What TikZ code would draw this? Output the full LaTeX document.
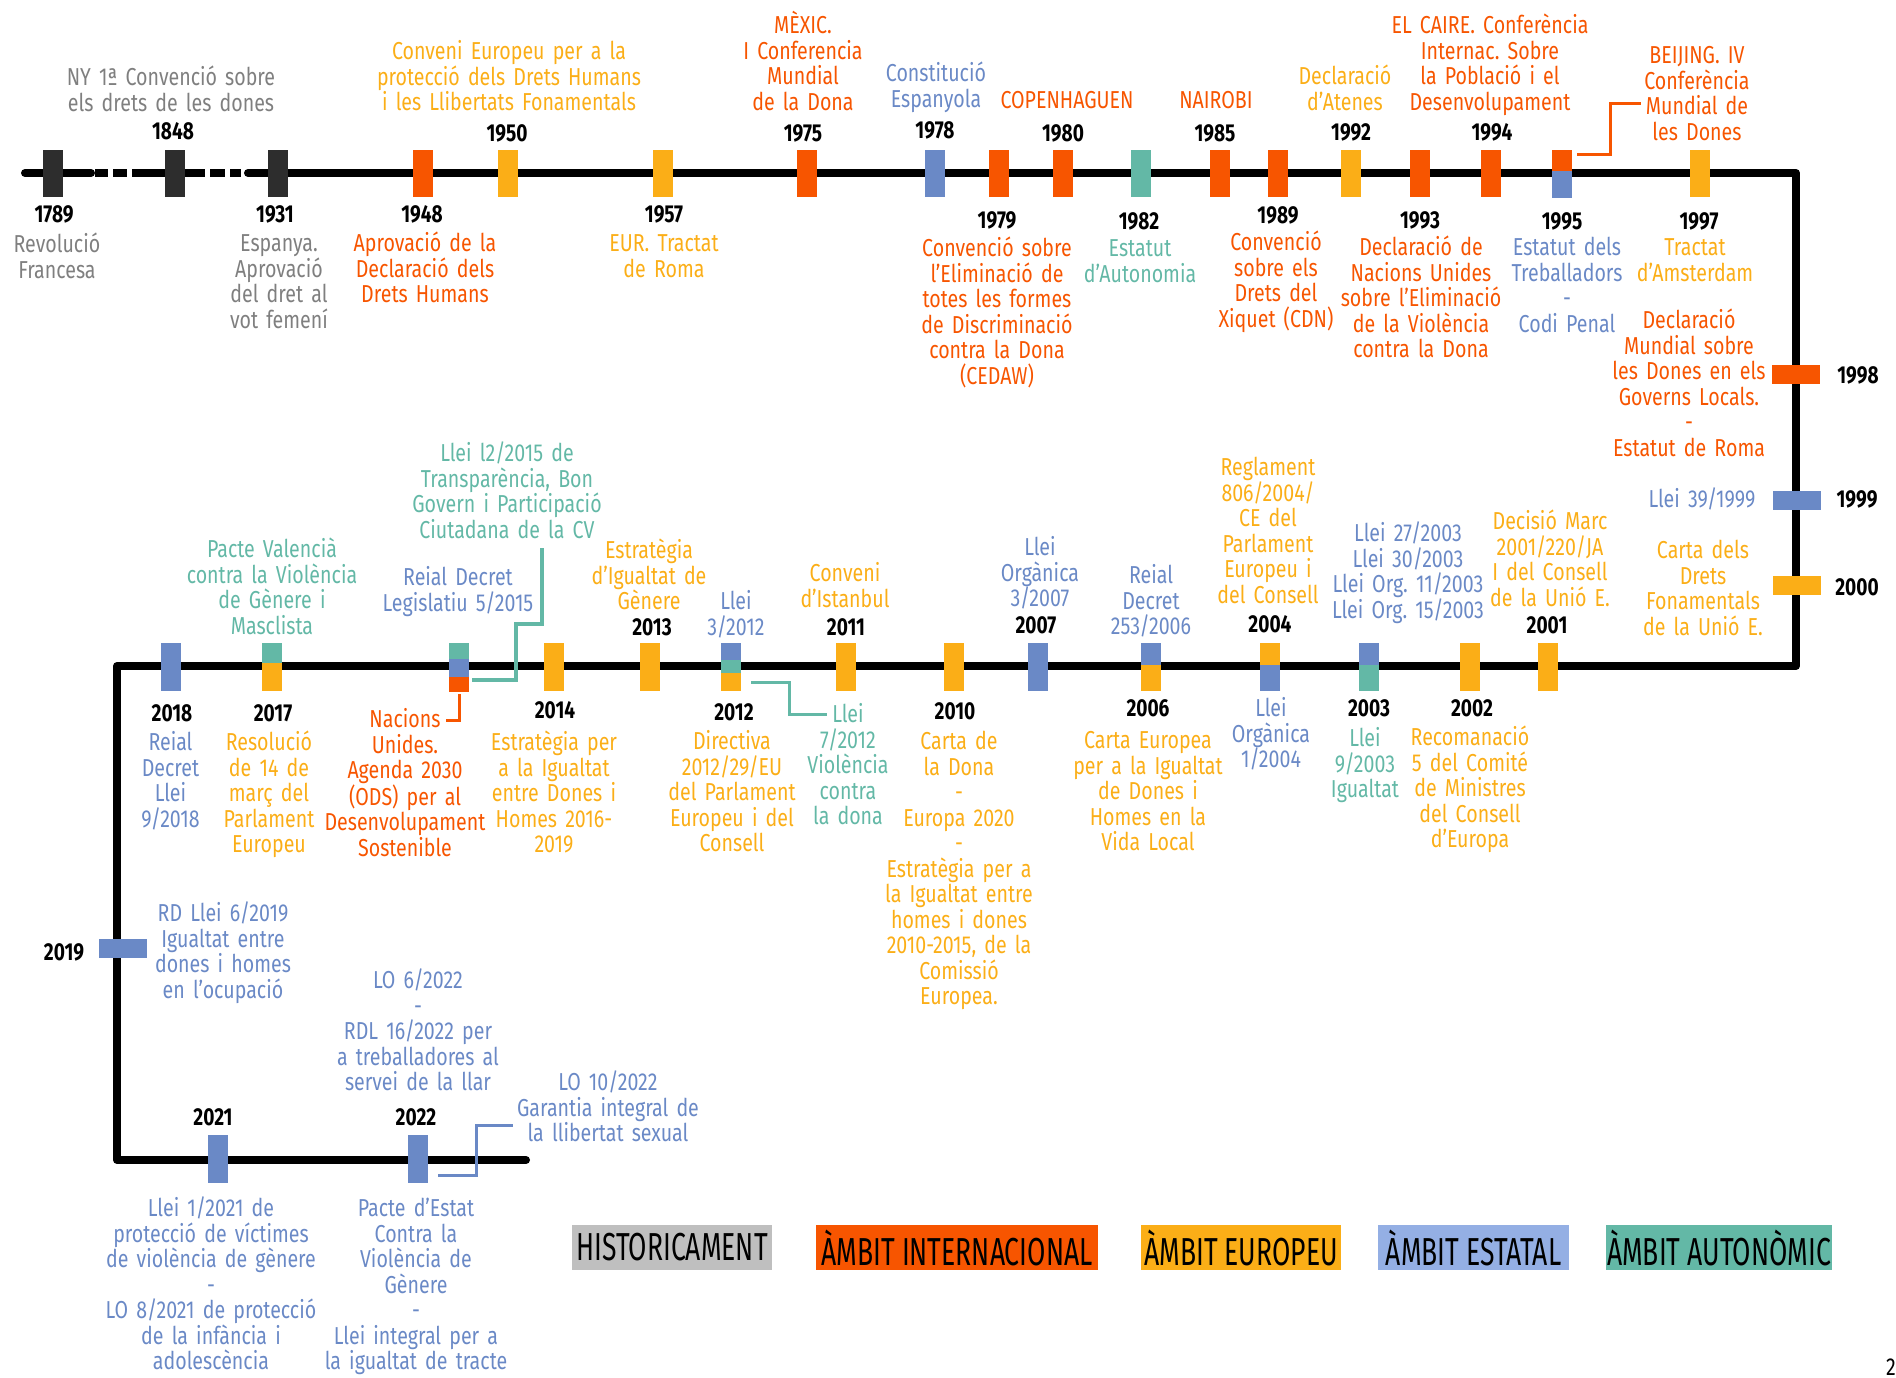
\documentclass[tikz,border=0pt]{standalone}
\usepackage{fontspec}
\setmainfont{Fira Sans}[FakeStretch=0.8]
\newfontfamily\yrfam{Fira Sans}[FakeStretch=0.78]
\newfontfamily\legfam{Fira Sans}[FakeStretch=0.68]
\definecolor{ornc}{HTML}{F75500}
\definecolor{ylw}{HTML}{FBAE17}
\definecolor{blu}{HTML}{6A89C6}
\definecolor{bluL}{HTML}{94AFE4}
\definecolor{tea}{HTML}{63B8A6}
\definecolor{gry}{HTML}{7F7F7F}
\definecolor{gryL}{HTML}{BFBFBF}
\definecolor{drk}{HTML}{2D2D2D}
\frenchspacing
\def\txf{\fontsize{24.5}{25.5}\selectfont}
\def\yrf{\yrfam\bfseries\fontsize{24.5}{25.5}\selectfont}
\tikzset{
  mk/.style={inner sep=0, outer sep=0, minimum width=20pt, minimum height=47pt},
  hmk/.style={inner sep=0, outer sep=0, minimum width=48pt, minimum height=19pt},
  yr/.style={font=\yrf, text=black, inner sep=0, anchor=base, yshift=-8.5pt},
  lbl/.style={font=\txf, align=center, text width=400pt, inner sep=0, anchor=base, yshift=-8.5pt},
  con/.style={line width=3pt},
  axis/.style={line width=8pt},
  leg/.style={inner sep=0, minimum height=45pt, font=\legfam\fontsize{39}{40}\selectfont, text=black}
}
\begin{document}
\begin{tikzpicture}[x=1pt,y=-1pt]
\useasboundingbox (0,0) rectangle (1896,1377);
% axis
\draw[axis, line cap=round] (25,173) -- (91,173);
\draw[axis] (95,173) -- (108,173) (113,173) -- (127,173) (210,173) -- (225,173) (230,173) -- (241,173);
\draw[axis] (132,173) -- (205,173);
\draw[axis, line cap=round, line join=round] (248,173) -- (1796,173) -- (1796,666) -- (117,666) -- (117,1160) -- (526,1160);
% top markers
\node[mk, fill=drk] (m1789) at (53,173.5) {};
\node[mk, fill=drk] (m1848) at (175,173.5) {};
\node[mk, fill=drk] (m1931) at (278,173.5) {};
\node[mk, fill=ornc] (m1948) at (423,173.5) {};
\node[mk, fill=ylw] (m1950) at (508,173.5) {};
\node[mk, fill=ylw] (m1957) at (663,173.5) {};
\node[mk, fill=ornc] (m1975) at (807,173.5) {};
\node[mk, fill=blu] (m1978) at (935,173.5) {};
\node[mk, fill=ornc] (m1979) at (999,173.5) {};
\node[mk, fill=ornc] (m1980) at (1063,173.5) {};
\node[mk, fill=tea] (m1982) at (1141,173.5) {};
\node[mk, fill=ornc] (m1985) at (1220,173.5) {};
\node[mk, fill=ornc] (m1989) at (1278,173.5) {};
\node[mk, fill=ylw] (m1992) at (1351,173.5) {};
\node[mk, fill=ornc] (m1993) at (1420,173.5) {};
\node[mk, fill=ornc] (m1994) at (1491,173.5) {};
\node[mk, fill=ornc, minimum height=21pt] (m1995a) at (1562,160.5) {};
\node[mk, fill=blu, minimum height=27pt] (m1995b) at (1562,184.5) {};
\node[mk, fill=ylw] (m1997) at (1700,173.5) {};
% right markers
\node[hmk, fill=ornc] (m1998) at (1796,374) {};
\node[hmk, fill=blu] (m1999) at (1797,500) {};
\node[hmk, fill=ylw] (m2000) at (1797,585) {};
% middle markers
\node[mk, fill=ylw, minimum height=48pt] (m2001) at (1548,667) {};
\node[mk, fill=ylw, minimum height=48pt] (m2002) at (1470,667) {};
\node[mk, fill=blu, minimum height=22pt] (m2003a) at (1369,654) {};
\node[mk, fill=tea, minimum height=26pt] (m2003b) at (1369,678) {};
\node[mk, fill=ylw, minimum height=22pt] (m2004a) at (1270,654) {};
\node[mk, fill=blu, minimum height=26pt] (m2004b) at (1270,678) {};
\node[mk, fill=blu, minimum height=22pt] (m2006a) at (1151,654) {};
\node[mk, fill=ylw, minimum height=26pt] (m2006b) at (1151,678) {};
\node[mk, fill=blu, minimum height=48pt] (m2007) at (1038,667) {};
\node[mk, fill=ylw, minimum height=48pt] (m2010) at (954,667) {};
\node[mk, fill=ylw, minimum height=48pt] (m2011) at (846,667) {};
\node[mk, fill=blu, minimum height=17pt] (m2012a) at (731,651.5) {};
\node[mk, fill=tea, minimum height=13pt] (m2012b) at (731,666.5) {};
\node[mk, fill=ylw, minimum height=18pt] (m2012c) at (731,682) {};
\node[mk, fill=ylw, minimum height=48pt] (m2013) at (650,667) {};
\node[mk, fill=ylw, minimum height=48pt] (m2014) at (554,667) {};
\node[mk, fill=tea, minimum height=16pt] (m2015a) at (459,651) {};
\node[mk, fill=blu, minimum height=18pt] (m2015b) at (459,668) {};
\node[mk, fill=ornc, minimum height=15pt] (m2015c) at (459,684.5) {};
\node[mk, fill=tea, minimum height=20pt] (m2017a) at (271.5,653) {};
\node[mk, fill=ylw, minimum height=28pt] (m2017b) at (271.5,677) {};
\node[mk, fill=blu, minimum height=48pt] (m2018) at (170.5,667) {};
% left and bottom markers
\node[hmk, fill=blu] (m2019) at (123,948.5) {};
\node[mk, fill=blu, minimum height=48pt] (m2021) at (218,1159) {};
\node[mk, fill=blu, minimum height=48pt] (m2022) at (418,1159) {};
% connectors
\coordinate (c1995) at (1641,103);
\draw[con, ornc] ([xshift=5pt,yshift=6.5pt]m1995a.east) -| (1610,103) -- (c1995);
\coordinate (c2012) at (827,714);
\draw[con, tea] ([xshift=10pt]m2012c.east) -| (789,714) -- (c2012);
\coordinate (c2015t) at (542,548);
\draw[con, tea, line width=3.5pt] ([xshift=3pt,yshift=4.5pt]m2015c.east) -| (516,624) -| (c2015t);
\coordinate (c2015o) at (446,720);
\draw[con, ornc] ([yshift=-2pt]m2015c.south) |- (c2015o);
\coordinate (c2022) at (513,1125);
\draw[con, blu] ([xshift=10pt,yshift=-16pt]m2022.east) -| (476,1125) -- (c2022);
% years
\node[yr] (y1848) at (173,131) {1848};
\node[yr] (y1950) at (507,133) {1950};
\node[yr] (y1975) at (803,133) {1975};
\node[yr] (y1978) at (935,130) {1978};
\node[yr] (y1980) at (1063,133) {1980};
\node[yr] (y1985) at (1215,133) {1985};
\node[yr] (y1992) at (1351,132) {1992};
\node[yr] (y1994) at (1492,132) {1994};
\node[yr] (y1789) at (54,214) {1789};
\node[yr] (y1931) at (275,214) {1931};
\node[yr] (y1948) at (422,214) {1948};
\node[yr] (y1957) at (664,214) {1957};
\node[yr] (y1979) at (997,220) {1979};
\node[yr] (y1982) at (1139,221) {1982};
\node[yr] (y1989) at (1278,215) {1989};
\node[yr] (y1993) at (1420,220) {1993};
\node[yr] (y1995) at (1562,221) {1995};
\node[yr] (y1997) at (1699,221) {1997};
\node[yr] (y1998) at (1858,375) {1998};
\node[yr] (y1999) at (1857,499) {1999};
\node[yr] (y2000) at (1857,587) {2000};
\node[yr] (y2001) at (1547,625) {2001};
\node[yr] (y2004) at (1270,624) {2004};
\node[yr] (y2007) at (1036,625) {2007};
\node[yr] (y2011) at (846,627) {2011};
\node[yr] (y2013) at (652,627) {2013};
\node[yr] (y2002) at (1472,708) {2002};
\node[yr] (y2003) at (1369,708) {2003};
\node[yr] (y2006) at (1148,708) {2006};
\node[yr] (y2010) at (955,711) {2010};
\node[yr] (y2012) at (734,712) {2012};
\node[yr] (y2014) at (555,710) {2014};
\node[yr] (y2017) at (273,713) {2017};
\node[yr] (y2018) at (172,713) {2018};
\node[yr] (y2019) at (64,952) {2019};
\node[yr] (y2021) at (213,1117) {2021};
\node[yr] (y2022) at (416,1117) {2022};
% labels top row
\node[lbl, text=gry] (t1848) at (171,77) {NY 1ª Convenció sobre\\els drets de les dones};
\node[lbl, text=ylw] (t1950) at (509,51) {Conveni Europeu per a la\\protecció dels Drets Humans\\i les Llibertats Fonamentals};
\node[lbl, text=ornc] (t1975) at (803,25) {MÈXIC.\\I Conferencia\\Mundial\\de la Dona};
\node[lbl, text=blu] (t1978) at (936,73) {Constitució\\Espanyola};
\node[lbl, text=ornc] (t1980) at (1067,100) {COPENHAGUEN};
\node[lbl, text=ornc] (t1985) at (1216,100) {NAIROBI};
\node[lbl, text=ylw] (t1992) at (1345,76) {Declaració\\d’Atenes};
\node[lbl, text=ornc] (t1994) at (1490,25) {EL CAIRE. Conferència\\Internac. Sobre\\la Població i el\\Desenvolupament};
\node[lbl, text=ornc] (t1995b) at (1697,55) {BEIJING. IV\\Conferència\\Mundial de\\les Dones};
\node[lbl, text=gry] (t1789) at (57,244) {Revolució\\Francesa};
\node[lbl, text=gry] (t1931) at (279,243) {Espanya.\\Aprovació\\del dret al\\vot femení};
\node[lbl, text=ornc] (t1948) at (425,243) {Aprovació de la\\Declaració dels\\Drets Humans};
\node[lbl, text=ylw] (t1957) at (664,243) {EUR. Tractat\\de Roma};
\node[lbl, text=ornc] (t1979) at (997,248) {Convenció sobre\\l’Eliminació de\\totes les formes\\de Discriminació\\contra la Dona\\(CEDAW)};
\node[lbl, text=tea] (t1982) at (1140,248) {Estatut\\d'Autonomia};
\node[lbl, text=ornc] (t1989) at (1276,242) {Convenció\\sobre els\\Drets del\\Xiquet (CDN)};
\node[lbl, text=ornc] (t1993) at (1421,247) {Declaració de\\Nacions Unides\\sobre l’Eliminació\\de la Violència\\contra la Dona};
\node[lbl, text=blu] (t1995) at (1567,247) {Estatut dels\\Treballadors\\-\\Codi Penal};
\node[lbl, text=ylw] (t1997) at (1695,247) {Tractat\\d’Amsterdam};
\node[lbl, text=ornc] (t1998) at (1689,320) {Declaració\\Mundial sobre\\les Dones en els\\Governs Locals.\\-\\Estatut de Roma};
\node[lbl, text=blu] (t1999) at (1702,499) {Llei 39/1999};
\node[lbl, text=ylw] (t2000) at (1703,550) {Carta dels\\Drets\\Fonamentals\\de la Unió E.};
% labels middle row, above
\node[lbl, text=ylw] (t2001) at (1550,521) {Decisió Marc\\2001/220/JA\\I del Consell\\de la Unió E.};
\node[lbl, text=blu] (t2003a) at (1408,533) {Llei 27/2003\\Llei 30/2003\\Llei Org. 11/2003\\Llei Org. 15/2003};
\node[lbl, text=ylw] (t2004a) at (1268,467) {Reglament\\806/2004/\\CE del\\Parlament\\Europeu i\\del Consell};
\node[lbl, text=blu] (t2006a) at (1151,575) {Reial\\Decret\\253/2006};
\node[lbl, text=blu] (t2007) at (1040,547) {Llei\\Orgànica\\3/2007};
\node[lbl, text=ylw] (t2011) at (845,573) {Conveni\\d’Istanbul};
\node[lbl, text=blu] (t2012a) at (736,601) {Llei\\3/2012};
\node[lbl, text=ylw] (t2013) at (649,550) {Estratègia\\d’Igualtat de\\Gènere};
\node[lbl, text=blu] (t2015a) at (458,577) {Reial Decret\\Legislatiu 5/2015};
\node[lbl, text=tea] (t2015b) at (507,453) {Llei l2/2015 de\\Transparència, Bon\\Govern i Participació\\Ciutadana de la CV};
\node[lbl, text=tea] (t2017a) at (272,549) {Pacte Valencià\\contra la Violència\\de Gènere i\\Masclista};
% labels middle row, below
\node[lbl, text=ylw] (t2002) at (1470,737) {Recomanació\\5 del Comité\\de Ministres\\del Consell\\d’Europa};
\node[lbl, text=tea] (t2003b) at (1365,738) {Llei\\9/2003\\Igualtat};
\node[lbl, text=blu] (t2004b) at (1271,708) {Llei\\Orgànica\\1/2004};
\node[lbl, text=ylw] (t2006b) at (1148,740) {Carta Europea\\per a la Igualtat\\de Dones i\\Homes en la\\Vida Local};
\node[lbl, text=ylw] (t2010) at (959,741) {Carta de\\la Dona\\-\\Europa 2020\\-\\Estratègia per a\\la Igualtat entre\\homes i dones\\2010-2015, de la\\Comissió\\Europea.};
\node[lbl, text=ylw] (t2012b) at (732,741) {Directiva\\2012/29/EU\\del Parlament\\Europeu i del\\Consell};
\node[lbl, text=tea] (t2012c) at (848,714) {Llei\\7/2012\\Violència\\contra\\la dona};
\node[lbl, text=ylw] (t2014) at (554,742) {Estratègia per\\a la Igualtat\\entre Dones i\\Homes 2016-\\2019};
\node[lbl, text=ornc] (t2015c) at (405,719) {Nacions\\Unides.\\Agenda 2030\\(ODS) per al\\Desenvolupament\\Sostenible};
\node[lbl, text=ylw] (t2017b) at (269,742) {Resolució\\de 14 de\\març del\\Parlament\\Europeu};
\node[lbl, text=blu] (t2018) at (170.5,742) {Reial\\Decret\\Llei\\9/2018};
% labels bottom
\node[lbl, text=blu] (t2019) at (223,913) {RD Llei 6/2019\\Igualtat entre\\dones i homes\\en l’ocupació};
\node[lbl, text=blu] (t2022a) at (418,980) {LO 6/2022\\-\\RDL 16/2022 per\\a treballadores al\\servei de la llar};
\node[lbl, text=blu] (t2022c) at (608,1082) {LO 10/2022\\Garantia integral de\\la llibertat sexual};
\node[lbl, text=blu] (t2021) at (211,1208) {Llei 1/2021 de\\protecció de víctimes\\de violència de gènere\\-\\LO 8/2021 de protecció\\de la infància i\\adolescència};
\node[lbl, text=blu] (t2022b) at (416,1208) {Pacte d’Estat\\Contra la\\Violència de\\Gènere\\-\\Llei integral per a\\la igualtat de tracte};
% legend
\node[leg, fill=gryL, minimum width=200pt] (lhist) at (672,1247.5) {HISTORICAMENT};
\node[leg, fill=ornc, minimum width=282pt] (lint) at (957,1247.5) {ÀMBIT INTERNACIONAL};
\node[leg, fill=ylw, minimum width=200pt] (leur) at (1241,1247.5) {ÀMBIT EUROPEU};
\node[leg, fill=bluL, minimum width=191pt] (lest) at (1473.5,1247.5) {ÀMBIT ESTATAL};
\node[leg, fill=tea, minimum width=226pt] (laut) at (1719,1247.5) {ÀMBIT AUTONÒMIC};
\node[font=\txf, inner sep=0, anchor=base west] (pg) at (1886,1375) {22};
\end{tikzpicture}
\end{document}
